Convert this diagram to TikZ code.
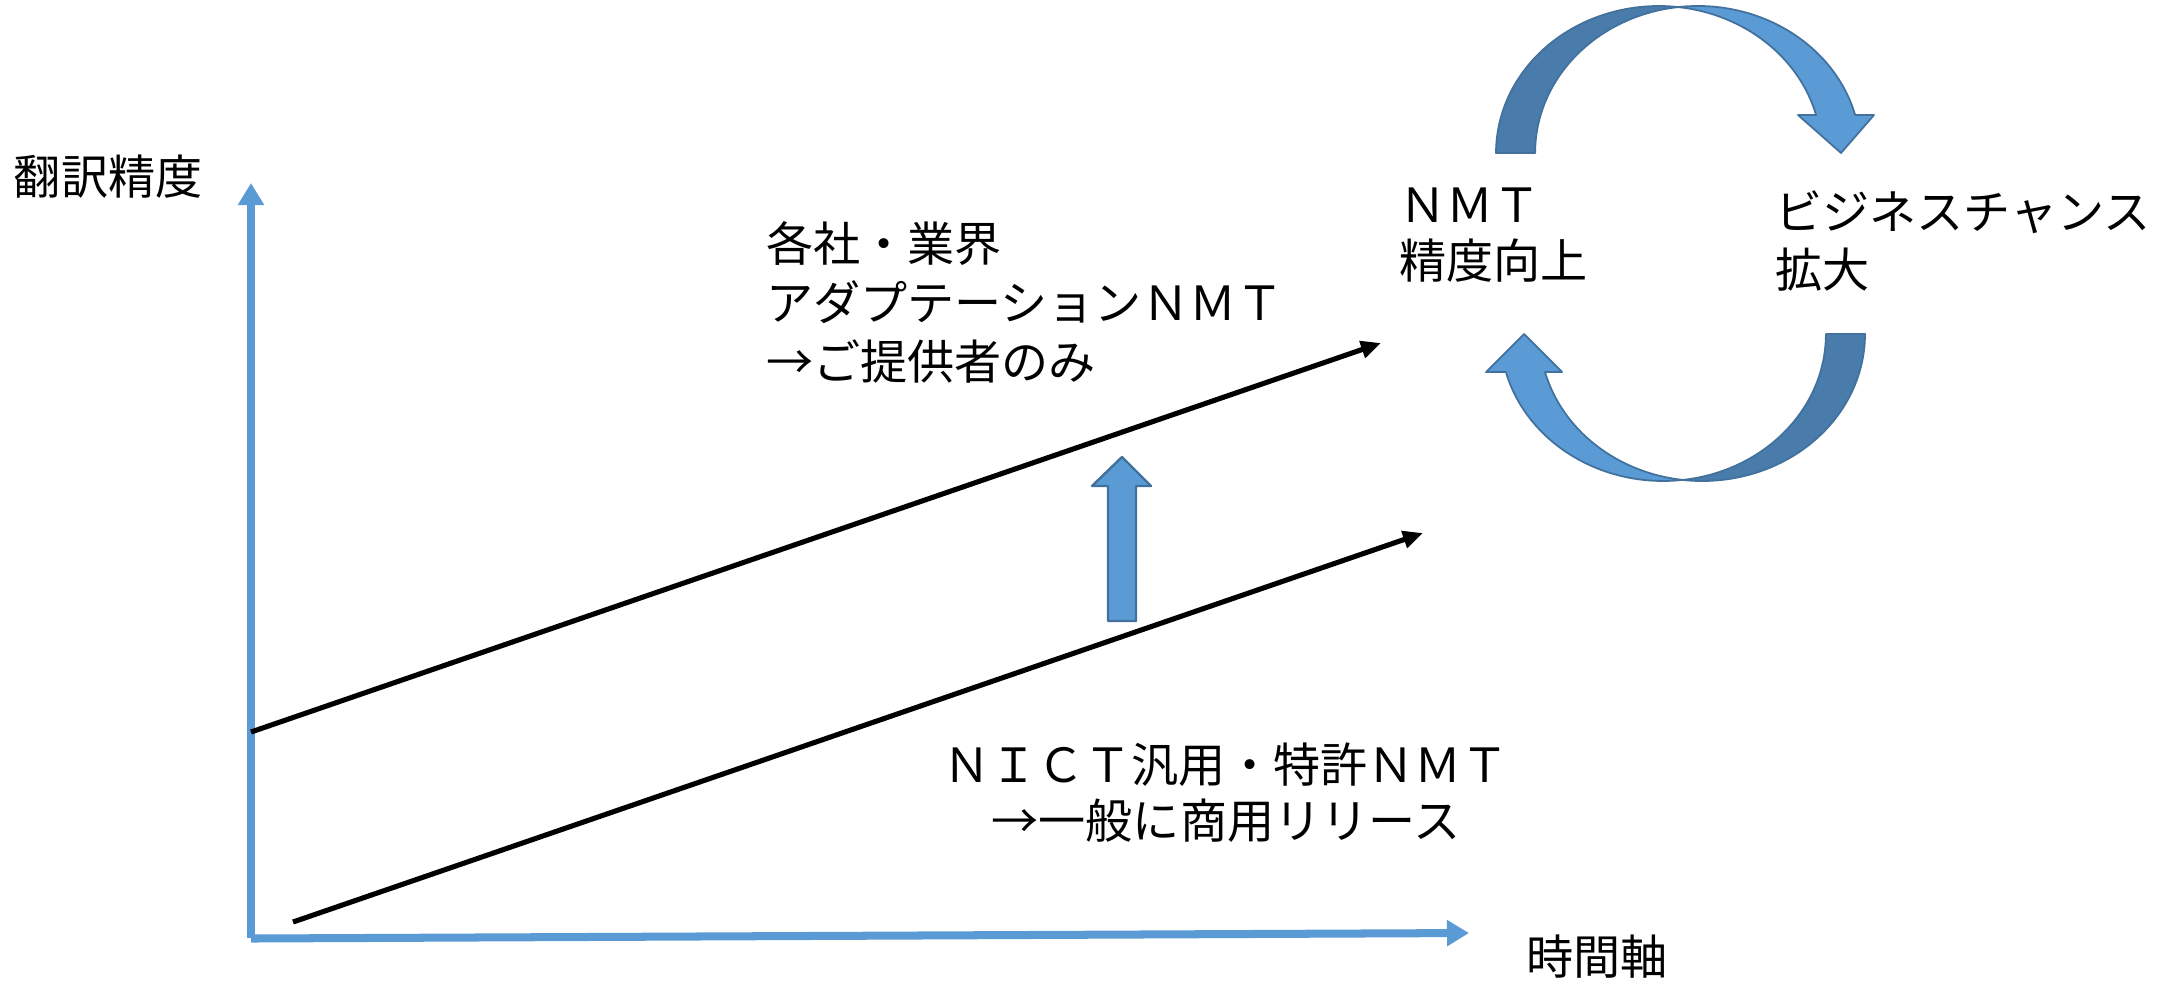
\documentclass[tikz,border=0pt]{standalone}
\usepackage{fontspec}
\setmainfont{Noto Sans CJK JP}
\usetikzlibrary{arrows.meta}
\definecolor{pblue}{HTML}{5B9BD5}
\definecolor{pdark}{HTML}{497CAA}
\definecolor{pedge}{HTML}{41719C}
\tikzset{
  axisline/.style={draw=pblue, line width=2.28pt, line cap=butt,
    -{Triangle[length=0.22cm,width=0.25cm]}},
  trendline/.style={draw=black, line width=1.45pt,
    -{Triangle[length=0.2cm,width=0.17cm]}},
  lbl/.style={inner sep=0pt, outer sep=0pt, font=\fontsize{13.4pt}{16pt}\selectfont},
  lightpart/.style={fill=pblue, draw=pedge, line width=0.5pt, line join=round},
  darkpart/.style={fill=pdark, draw=pedge, line width=0.5pt, line join=round},
}
\begin{document}
\begin{tikzpicture}[x=0.01cm,y=-0.01cm]
\useasboundingbox (0,0) rectangle (2182,981);

% axes
\coordinate (yorig) at (251,938);
\coordinate (ytip) at (251,183);
\coordinate (xorig) at (251,938.5);
\coordinate (xtip) at (1469,933);
\draw[axisline] (yorig) -- (ytip);
\draw[axisline] (xorig) -- (xtip);

\node[lbl, anchor=west] (ylabel) at (14,177) {翻訳精度};
\node[lbl, anchor=west] (xlabel) at (1526,957) {時間軸};

% trend lines
\coordinate (upA) at (251,732);
\coordinate (upB) at (1381,343);
\coordinate (loA) at (293,922);
\coordinate (loB) at (1423,533);
\draw[trendline] (upA) -- (upB);
\draw[trendline] (loA) -- (loB);

% block arrow up
\path[lightpart, line width=0.7pt] (1108,621) -- (1136,621) -- (1136,486) -- (1151,486)
  -- (1122,457) -- (1092,486) -- (1108,486) -- cycle;

% labels
\node[lbl, anchor=west, align=left, font=\fontsize{13.4pt}{16.8pt}\selectfont] (adapt) at (766,302)
  {各社・業界\\アダプテーションＮＭＴ\\→ご提供者のみ};
\node[lbl, align=center, font=\fontsize{13.4pt}{15.9pt}\selectfont] (nict) at (1226,793)
  {ＮＩＣＴ汎用・特許ＮＭＴ\\→一般に商用リリース};
\node[lbl, anchor=west, align=left, font=\fontsize{13.4pt}{15.9pt}\selectfont] (nmt) at (1399,235)
  {ＮＭＴ\\精度向上};
\node[lbl, anchor=west, align=left, font=\fontsize{13.4pt}{16.3pt}\selectfont] (biz) at (1775,241)
  {ビジネスチャンス\\拡大};

% upper curved arrow: E1 centre (1658.8,153), E2 centre (1697.8,153), rx 162.8, ry 147
\path[darkpart] (1496,153) arc[start angle=180, end angle=276.9, x radius=162.8, y radius=147]
  arc[start angle=263.1, end angle=180, x radius=162.8, y radius=147] -- cycle;
\path[lightpart] (1678.3,7.06) arc[start angle=263.1, end angle=345, x radius=162.8, y radius=147]
  -- (1874,115) -- (1841,153) -- (1798,115) -- (1816.1,115)
  arc[start angle=345, end angle=276.9, x radius=162.8, y radius=147] -- cycle;

% lower curved arrow: E1 centre (1702.2,334), E2 centre (1663.2,334)
\path[darkpart] (1865,334) arc[start angle=0, end angle=96.9, x radius=162.8, y radius=147]
  arc[start angle=83.1, end angle=0, x radius=162.8, y radius=147] -- cycle;
\path[lightpart] (1682.7,479.9) arc[start angle=83.1, end angle=165, x radius=162.8, y radius=147]
  -- (1486,372) -- (1524,334) -- (1562,372) -- (1545,372)
  arc[start angle=165, end angle=96.9, x radius=162.8, y radius=147] -- cycle;
\end{tikzpicture}
\end{document}
